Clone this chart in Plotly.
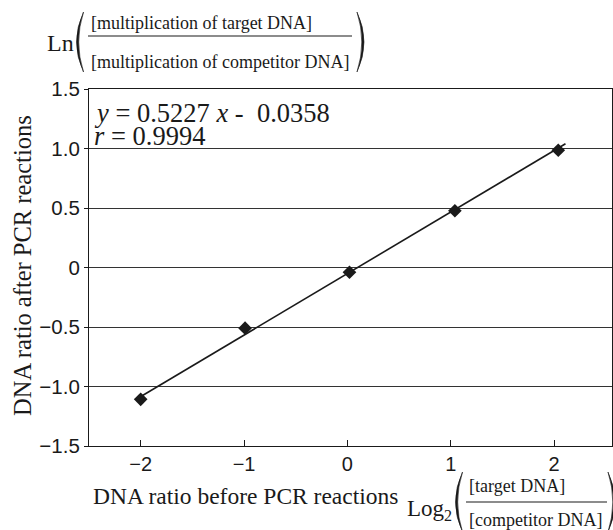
import plotly.graph_objects as go

# ---- data ----
x_ratio_before = [-2.0, -0.99, 0.02, 1.04, 2.04]
y_ratio_after = [-1.108, -0.51, -0.04, 0.477, 0.985]
fit_x = [-1.99, 2.11]
fit_y = [-1.08, 1.04]
x_tick_vals = [-2, -1, 0, 1, 2]
x_tick_text = ["\u22122", "\u22121", "0", "1", "2"]
y_tick_vals = [-1.5, -1.0, -0.5, 0, 0.5, 1.0, 1.5]
y_tick_text = ["\u22121.5", "\u22121.0", "\u22120.5", "0", "0.5", "1.0", "1.5"]
equation_text = "<i>y</i> = 0.5227 <i>x</i> -\u00a0 0.0358"
r_text = "<i>r</i> = 0.9994"
y_title = "DNA ratio after PCR reactions"
x_title = "DNA ratio before PCR reactions"

W, H = 613, 530
L, R, T, B = 89, 1, 89, 84
PW, PH = W - L - R, H - T - B

def px(xp):
    return (xp - L) / PW

def py(yp):
    return (H - B - yp) / PH

SERIF = "Liberation Serif"
SANS = "Liberation Sans"
INK = "#1a1a1a"

fig = go.Figure()
fig.add_trace(go.Scatter(x=fit_x, y=fit_y, mode="lines",
                         line=dict(color=INK, width=1.6), hoverinfo="skip"))
fig.add_trace(go.Scatter(x=x_ratio_before, y=y_ratio_after, mode="markers",
                         marker=dict(symbol="diamond", size=10.5, color=INK,
                                     line=dict(width=0))))

ann = []
def text(t, xp, yp, size, xanchor="left", yanchor="middle", font=SERIF, angle=0):
    ann.append(dict(text=t, x=px(xp), y=py(yp), xref="paper", yref="paper",
                    xanchor=xanchor, yanchor=yanchor, showarrow=False,
                    textangle=angle, borderpad=0,
                    font=dict(family=font, size=size, color=INK)))

text(equation_text, 93, 113, 26.5)
text(r_text, 93, 136, 26.5)
text(y_title, 22, 266, 24.5, xanchor="center", angle=-90)
text(x_title, 92, 496, 23.5)
# top fraction: Ln( ... )
text("Ln", 46, 43, 24)
text("[multiplication of target DNA]", 90, 23, 18)
text("[multiplication of competitor DNA]", 90, 62, 18)
# bottom fraction: Log2( ... )
text("Log<sub>2</sub>", 406, 510, 23)
text("[target DNA]", 468, 486, 18)
text("[competitor DNA]", 468, 520, 18)

shapes = []
def hline(x0, x1, y):
    shapes.append(dict(type="line", xref="paper", yref="paper",
                       x0=px(x0), x1=px(x1), y0=py(y), y1=py(y),
                       line=dict(color=INK, width=1.2)))

def paren(xe, xm, y0, y1, thick=2.2):
    # crescent-shaped parenthesis: ends at xe, belly at xm
    ym = (y0 + y1) / 2
    xm2 = xm + (thick if xm < xe else -thick)
    path = (f"M {px(xe)} {py(y0)} Q {px(2*xm - xe)} {py(ym)} {px(xe)} {py(y1)} "
            f"Q {px(2*xm2 - xe)} {py(ym)} {px(xe)} {py(y0)} Z")
    shapes.append(dict(type="path", xref="paper", yref="paper", path=path,
                       fillcolor=INK, line=dict(color=INK, width=0.6)))

hline(88, 352, 36)
paren(83.5, 76.5, 12, 72)
paren(357, 364, 12, 72)
hline(466, 607, 502)
paren(462.5, 455.5, 472, 532)
paren(608, 615, 472, 532)

fig.update_layout(
    width=W, height=H,
    margin=dict(l=L, r=R, t=T, b=B, autoexpand=False),
    paper_bgcolor="white", plot_bgcolor="white",
    showlegend=False,
    annotations=ann, shapes=shapes,
    xaxis=dict(range=[-2.5, 2.56], tickvals=x_tick_vals, ticktext=x_tick_text,
               ticks="inside", ticklen=6, tickcolor=INK, tickwidth=1,
               showline=True, linecolor=INK, linewidth=1.2, mirror=True,
               showgrid=False, zeroline=False,
               tickfont=dict(family=SANS, size=20, color=INK)),
    yaxis=dict(range=[-1.5, 1.5], tickvals=y_tick_vals, ticktext=y_tick_text,
               ticks="outside", ticklen=4, tickcolor=INK, tickwidth=1,
               showline=True, linecolor=INK, linewidth=1.2, mirror=True,
               showgrid=True, gridcolor="#333333", gridwidth=1.2,
               zeroline=False,
               tickfont=dict(family=SANS, size=20.5, color=INK)),
)

fig.write_html("out.html", config={"displayModeBar": False},
               post_script="document.body.style.margin='0';document.body.style.padding='0';")
